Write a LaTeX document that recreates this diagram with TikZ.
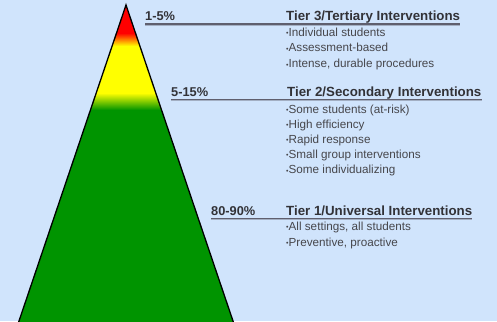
\documentclass[tikz,border=0pt]{standalone}
\usepackage{fontspec}
\setmainfont{Liberation Sans}
\definecolor{bg}{RGB}{208,228,252}
\definecolor{pgreen}{RGB}{0,148,0}
\definecolor{pred}{RGB}{255,0,0}
\definecolor{pyellow}{RGB}{255,255,0}
\definecolor{headc}{RGB}{50,50,55}
\definecolor{itemc}{RGB}{70,70,75}
\definecolor{linec}{RGB}{95,95,110}
\begin{document}
\begin{tikzpicture}[x=1pt,y=-1pt,
  headtxt/.style={anchor=base west,inner sep=0pt,text=headc,font=\fontsize{13.3}{15}\selectfont\bfseries},
  pcttxt/.style={anchor=base west,inner sep=0pt,text=headc,font=\fontsize{12.8}{15}\selectfont\bfseries},
  itemtxt/.style={anchor=base west,inner sep=0pt,text=itemc,font=\fontsize{11.7}{13}\selectfont},
  uline/.style={draw=linec,line width=1.6pt},
  ushadow/.style={draw=linec!40!bg,line width=1pt}]
\useasboundingbox (0,0) rectangle (497,321);
\fill[bg] (0,0) rectangle (497,321);
\begin{scope}
\clip (0,0) rectangle (497,321);
\begin{scope}
\clip (126,5) -- (236.05,330) -- (15.95,330) -- cycle;
\fill[pred] (0,0) rectangle (260,33);
\shade[top color=pred,bottom color=pyellow] (0,33) rectangle (260,46);
\fill[pyellow] (0,46) rectangle (260,93);
\shade[top color=pyellow,bottom color=pgreen] (0,93) rectangle (260,110);
\fill[pgreen] (0,110) rectangle (260,330);
\end{scope}
\draw[black,line width=1.3pt,line join=miter] (236.05,330) -- (126,5) -- (15.95,330);
\end{scope}
% labels
\node[pcttxt] (p3) at (145,21) {1-5\%};
\node[headtxt] (h3) at (286,21) {Tier 3/Tertiary Interventions};
\node[pcttxt] (p2) at (171,96) {5-15\%};
\node[headtxt] (h2) at (287,96) {Tier 2/Secondary Interventions};
\node[pcttxt] (p1) at (211,215) {80-90\%};
\node[headtxt] (h1) at (286,215) {Tier 1/Universal Interventions};
\draw[ushadow] ([yshift=-4.6pt]p3.base west) -- ([yshift=-4.6pt]h3.base east);
\draw[uline] ([yshift=-3.3pt]p3.base west) -- ([yshift=-3.3pt]h3.base east);
\draw[ushadow] ([yshift=-4.6pt]p2.base west) -- ([yshift=-4.6pt]h2.base east);
\draw[uline] ([yshift=-3.3pt]p2.base west) -- ([yshift=-3.3pt]h2.base east);
\draw[ushadow] ([yshift=-4.6pt]p1.base west) -- ([yshift=-4.6pt]h1.base east);
\draw[uline] ([yshift=-3.3pt]p1.base west) -- ([yshift=-3.3pt]h1.base east);
% items
\newcommand{\bul}{{\fontsize{7}{8}\selectfont\raisebox{0.5pt}{•}}}
\node[itemtxt] (a1) at (286,36.5) {\bul Individual students};
\node[itemtxt] (a2) at (286,52) {\bul Assessment-based};
\node[itemtxt] (a3) at (286,67.5) {\bul Intense, durable procedures};
\node[itemtxt] (b1) at (286,113) {\bul Some students (at-risk)};
\node[itemtxt] (b2) at (286,128) {\bul High efficiency};
\node[itemtxt] (b3) at (286,143) {\bul Rapid response};
\node[itemtxt] (b4) at (286,158) {\bul Small group interventions};
\node[itemtxt] (b5) at (286,173.5) {\bul Some individualizing};
\node[itemtxt] (c1) at (286,230) {\bul All settings, all students};
\node[itemtxt] (c2) at (286,246) {\bul Preventive, proactive};
\end{tikzpicture}
\end{document}
